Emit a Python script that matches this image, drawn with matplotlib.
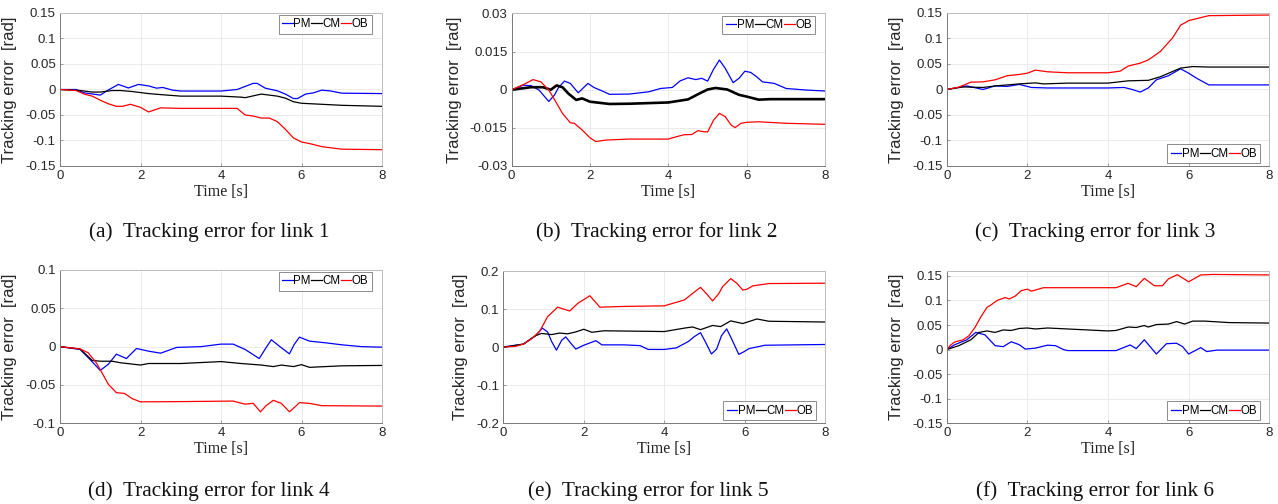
import matplotlib
matplotlib.use("Agg")
import matplotlib.pyplot as plt
from matplotlib.lines import Line2D

# ---------------- data ----------------
series_names = ["PM", "CM", "OB"]
series_colors = ["#0000ff", "#000000", "#ff0000"]
xticks = [0, 2, 4, 6, 8]
captions = ["(a)  Tracking error for link 1", "(b)  Tracking error for link 2",
            "(c)  Tracking error for link 3", "(d)  Tracking error for link 4",
            "(e)  Tracking error for link 5", "(f)  Tracking error for link 6"]

# panel a
a_pm_t = [0, 0.4, 0.6, 1.0, 1.2, 1.45, 1.7, 1.95, 2.2, 2.4, 2.55, 2.8, 3.0, 4.0, 4.4, 4.6, 4.8, 4.9, 5.1, 5.4, 5.6, 5.8, 5.9, 6.1, 6.3, 6.5, 6.7, 7.0, 8.0]
a_pm_y = [0, 0, -0.0065, -0.011, -0.001, 0.01, 0.003, 0.01, 0.007, 0.0026, 0.004, -0.0013, -0.003, -0.003, 0, 0.006, 0.012, 0.012, 0.0026, -0.0026, -0.009, -0.0177, -0.0177, -0.009, -0.0065, -0.0013, -0.0026, -0.0072, -0.008]
a_cm_t = [0, 0.5, 0.8, 1.0, 1.3, 1.5, 1.8, 2.2, 2.5, 3.0, 4.0, 4.5, 4.6, 5.0, 5.4, 5.6, 5.8, 6.0, 6.5, 7.0, 8.0]
a_cm_y = [0, -0.002, -0.005, -0.005, -0.002, -0.002, -0.004, -0.008, -0.01, -0.013, -0.013, -0.015, -0.016, -0.009, -0.013, -0.017, -0.024, -0.027, -0.029, -0.031, -0.033]
a_ob_t = [0, 0.4, 0.6, 0.8, 1.0, 1.2, 1.4, 1.55, 1.75, 2.0, 2.2, 2.35, 2.5, 3.0, 4.4, 4.6, 4.8, 5.0, 5.2, 5.4, 5.6, 5.8, 6.0, 6.2, 6.5, 7.0, 8.0]
a_ob_y = [0, -0.002, -0.009, -0.013, -0.021, -0.028, -0.033, -0.033, -0.029, -0.035, -0.044, -0.04, -0.036, -0.037, -0.037, -0.05, -0.052, -0.056, -0.056, -0.063, -0.078, -0.095, -0.103, -0.106, -0.112, -0.117, -0.118]

# panel b
b_pm_t = [0, 0.3, 0.5, 0.7, 0.95, 1.1, 1.2, 1.35, 1.5, 1.7, 1.95, 2.1, 2.3, 2.5, 3.0, 3.5, 3.8, 4.1, 4.3, 4.5, 4.7, 4.85, 5.0, 5.15, 5.3, 5.45, 5.65, 5.8, 5.95, 6.1, 6.25, 6.4, 6.7, 7.0, 7.5, 8.0]
b_pm_y = [0, 0.0018, 0.0016, -0.0001, -0.0046, -0.002, 0.0009, 0.0034, 0.0025, -0.0012, 0.0025, 0.0009, -0.0004, -0.0018, -0.0017, -0.0008, 0.0005, 0.0009, 0.0035, 0.0047, 0.004, 0.0045, 0.0034, 0.008, 0.0117, 0.0084, 0.0028, 0.0045, 0.0073, 0.0068, 0.0051, 0.0031, 0.0025, 0.0005, -0.0001, -0.0005]
b_cm_t = [0, 0.5, 0.8, 1.0, 1.15, 1.3, 1.45, 1.65, 1.8, 2.0, 2.5, 3.0, 4.0, 4.5, 4.8, 5.0, 5.2, 5.5, 5.8, 6.0, 6.3, 6.6, 7.0, 8.0]
b_cm_y = [0, 0.001, 0.001, 0.0, 0.0017, 0.001, -0.0015, -0.004, -0.0034, -0.0047, -0.0056, -0.0055, -0.005, -0.0038, -0.0014, 0.0001, 0.0007, 0.0001, -0.002, -0.0027, -0.0039, -0.0037, -0.0037, -0.0037]
b_ob_t = [0, 0.3, 0.55, 0.75, 0.95, 1.1, 1.3, 1.5, 1.6, 1.8, 2.0, 2.15, 2.4, 3.0, 4.0, 4.2, 4.4, 4.6, 4.75, 4.9, 5.0, 5.15, 5.3, 5.45, 5.6, 5.7, 5.85, 6.0, 6.3, 7.0, 8.0]
b_ob_y = [0, 0.002, 0.004, 0.0031, -0.0001, -0.004, -0.0093, -0.013, -0.0132, -0.0158, -0.0189, -0.0204, -0.0198, -0.0194, -0.0194, -0.0185, -0.0177, -0.0176, -0.0161, -0.0165, -0.0166, -0.012, -0.0093, -0.0106, -0.0139, -0.0149, -0.0132, -0.0128, -0.0126, -0.0132, -0.0136]

# panel c
c_pm_t = [0, 0.5, 0.9, 1.2, 1.5, 1.8, 2.1, 2.5, 4.0, 4.4, 4.6, 4.8, 5.0, 5.2, 5.5, 5.8, 6.0, 6.2, 6.5, 8.0]
c_pm_y = [0, 0.007, 0.0, 0.007, 0.006, 0.01, 0.004, 0.003, 0.003, 0.004, 0.0, -0.005, 0.003, 0.019, 0.027, 0.0406, 0.032, 0.022, 0.009, 0.009]
c_cm_t = [0, 0.4, 0.9, 1.2, 1.8, 2.2, 2.4, 3.0, 4.0, 4.5, 5.0, 5.3, 5.8, 6.1, 6.5, 8.0]
c_cm_y = [0, 0.005, 0.004, 0.007, 0.011, 0.013, 0.011, 0.0125, 0.0125, 0.017, 0.018, 0.025, 0.042, 0.045, 0.044, 0.044]
c_ob_t = [0, 0.3, 0.6, 0.9, 1.2, 1.5, 1.8, 2.0, 2.2, 2.5, 3.0, 4.0, 4.3, 4.5, 4.8, 5.0, 5.3, 5.6, 5.8, 6.0, 6.2, 6.5, 8.0]
c_ob_y = [0, 0.0046, 0.0144, 0.015, 0.019, 0.027, 0.0295, 0.032, 0.038, 0.0347, 0.0328, 0.0328, 0.036, 0.0459, 0.0517, 0.058, 0.0747, 0.101, 0.126, 0.135, 0.139, 0.1448, 0.146]

# panel d
d_pm_t = [0, 0.5, 0.75, 1.0, 1.2, 1.4, 1.65, 1.9, 2.2, 2.5, 2.9, 3.5, 4.0, 4.3, 4.6, 4.95, 5.1, 5.25, 5.45, 5.7, 5.82, 5.95, 6.2, 6.6, 7.0, 7.5, 8.0]
d_pm_y = [0, -0.0037, -0.017, -0.031, -0.023, -0.0098, -0.0155, -0.0024, -0.0059, -0.0085, -0.001, 0, 0.0033, 0.0033, -0.0037, -0.0155, -0.003, 0.009, 0.0006, -0.0094, 0.003, 0.0124, 0.0072, 0.005, 0.0024, 0, -0.0007]
d_cm_t = [0, 0.5, 0.8, 1.0, 1.3, 1.5, 2.0, 2.2, 3.0, 4.0, 4.5, 5.0, 5.3, 5.5, 5.8, 6.0, 6.2, 7.0, 8.0]
d_cm_y = [0, -0.003, -0.018, -0.019, -0.019, -0.021, -0.024, -0.022, -0.022, -0.0195, -0.022, -0.024, -0.026, -0.024, -0.026, -0.0235, -0.027, -0.025, -0.0245]
d_ob_t = [0, 0.5, 0.7, 0.9, 1.0, 1.2, 1.4, 1.6, 1.8, 2.0, 3.0, 4.3, 4.6, 4.8, 4.98, 5.12, 5.3, 5.5, 5.7, 5.83, 5.95, 6.2, 6.5, 8.0]
d_ob_y = [0, -0.003, -0.008, -0.021, -0.03, -0.049, -0.06, -0.061, -0.068, -0.072, -0.0717, -0.071, -0.075, -0.074, -0.085, -0.077, -0.07, -0.074, -0.085, -0.079, -0.073, -0.074, -0.077, -0.0775]

# panel e
e_pm_t = [0, 0.5, 0.8, 0.97, 1.1, 1.2, 1.32, 1.45, 1.55, 1.68, 1.8, 2.0, 2.3, 2.45, 3.0, 3.4, 3.6, 4.0, 4.3, 4.6, 4.75, 4.9, 5.03, 5.17, 5.3, 5.42, 5.55, 5.68, 5.85, 5.98, 6.1, 6.5, 8.0]
e_pm_y = [0, 0.008, 0.03, 0.05, 0.04, 0.015, -0.008, 0.018, 0.027, 0.01, -0.005, 0.005, 0.017, 0.006, 0.006, 0.004, -0.006, -0.006, -0.002, 0.015, 0.028, 0.038, 0.012, -0.018, -0.005, 0.03, 0.048, 0.02, -0.019, -0.012, -0.004, 0.005, 0.007]
e_cm_t = [0, 0.5, 0.8, 0.95, 1.2, 1.4, 1.6, 1.8, 2.0, 2.2, 2.5, 4.0, 4.5, 4.7, 4.9, 5.2, 5.4, 5.65, 5.95, 6.3, 6.6, 8.0]
e_cm_y = [0, 0.008, 0.03, 0.036, 0.033, 0.037, 0.035, 0.04, 0.047, 0.039, 0.043, 0.041, 0.05, 0.053, 0.046, 0.057, 0.054, 0.069, 0.062, 0.074, 0.068, 0.066]
e_ob_t = [0, 0.3, 0.5, 0.7, 0.9, 1.1, 1.35, 1.65, 1.85, 2.15, 2.4, 3.0, 4.0, 4.5, 4.75, 4.9, 5.05, 5.2, 5.35, 5.45, 5.65, 5.8, 5.95, 6.05, 6.2, 6.6, 8.0]
e_ob_y = [0, 0.002, 0.008, 0.022, 0.041, 0.08, 0.105, 0.095, 0.115, 0.135, 0.105, 0.107, 0.1085, 0.124, 0.145, 0.157, 0.14, 0.1215, 0.14, 0.159, 0.18, 0.168, 0.15, 0.152, 0.161, 0.167, 0.168]

# panel f
f_pm_t = [0, 0.2, 0.5, 0.72, 0.95, 1.2, 1.4, 1.6, 1.8, 1.95, 2.2, 2.5, 2.7, 2.9, 3.0, 4.2, 4.55, 4.7, 4.9, 5.2, 5.45, 5.7, 5.85, 6.0, 6.3, 6.45, 6.7, 8.0]
f_pm_y = [0, 0.01, 0.02, 0.035, 0.03, 0.008, 0.006, 0.016, 0.01, 0.001, 0.003, 0.009, 0.008, 0.0, -0.002, -0.002, 0.0095, 0.002, 0.02, -0.009, 0.012, 0.013, 0.006, -0.009, 0.004, -0.004, -0.001, -0.001]
f_cm_t = [0, 0.3, 0.6, 0.8, 1.0, 1.2, 1.4, 1.6, 1.8, 2.0, 2.2, 2.5, 3.0, 4.0, 4.2, 4.5, 4.7, 4.9, 5.0, 5.2, 5.5, 5.7, 5.9, 6.1, 6.4, 7.0, 8.0]
f_cm_y = [0, 0.008, 0.02, 0.035, 0.038, 0.035, 0.04, 0.039, 0.043, 0.044, 0.042, 0.044, 0.042, 0.038, 0.039, 0.046, 0.045, 0.049, 0.046, 0.051, 0.052, 0.057, 0.052, 0.058, 0.058, 0.055, 0.054]
f_ob_t = [0, 0.1, 0.2, 0.4, 0.55, 0.7, 0.85, 1.0, 1.1, 1.25, 1.45, 1.55, 1.7, 1.85, 2.0, 2.1, 2.4, 3.0, 4.2, 4.5, 4.7, 4.9, 5.15, 5.35, 5.5, 5.72, 6.0, 6.3, 6.6, 8.0]
f_ob_y = [0, 0.0095, 0.0156, 0.0197, 0.028, 0.045, 0.067, 0.086, 0.091, 0.1, 0.106, 0.103, 0.109, 0.12, 0.123, 0.119, 0.126, 0.126, 0.126, 0.135, 0.128, 0.145, 0.13, 0.13, 0.144, 0.1525, 0.138, 0.152, 0.153, 0.152]

ytick_sets = [
    ["0.15", "0.1", "0.05", "0", "-0.05", "-0.1", "-0.15"],
    ["0.03", "0.015", "0", "-0.015", "-0.03"],
    ["0.15", "0.1", "0.05", "0", "-0.05", "-0.1", "-0.15"],
    ["0.1", "0.05", "0", "-0.05", "-0.1"],
    ["0.2", "0.1", "0", "-0.1", "-0.2"],
    ["0.15", "0.1", "0.05", "0", "-0.05", "-0.1", "-0.15"],
]
ylims = [(-0.15, 0.15), (-0.03, 0.03), (-0.15, 0.15), (-0.1, 0.1), (-0.2, 0.2), (-0.15, 0.16)]

panels = [
    [(a_pm_t, a_pm_y), (a_cm_t, a_cm_y), (a_ob_t, a_ob_y)],
    [(b_pm_t, b_pm_y), (b_cm_t, b_cm_y), (b_ob_t, b_ob_y)],
    [(c_pm_t, c_pm_y), (c_cm_t, c_cm_y), (c_ob_t, c_ob_y)],
    [(d_pm_t, d_pm_y), (d_cm_t, d_cm_y), (d_ob_t, d_ob_y)],
    [(e_pm_t, e_pm_y), (e_cm_t, e_cm_y), (e_ob_t, e_ob_y)],
    [(f_pm_t, f_pm_y), (f_cm_t, f_cm_y), (f_ob_t, f_ob_y)],
]

# ---------------- layout (pixels) ----------------
W, H = 1278, 504
fig = plt.figure(figsize=(W / 100, H / 100), dpi=100)
boxes = [(60, 382, 13, 166), (511.5, 825.3, 13.5, 166), (946.7, 1269.3, 13, 166),
         (60, 382, 270, 423.3), (503.3, 825.3, 271, 423.3), (946.7, 1269.3, 271, 423.3)]
ylabel_off = [-43, -50, -43, -43, -35, -43]
legend_loc = ["upper", "upper", "lower", "upper", "lower", "lower"]
cap_x = [209, 657, 1095, 209, 648, 1095]
cap_y = [232, 232, 232, 491, 491, 491]
cm_lw = [0.9, 1.9, 0.9, 0.9, 0.9, 0.9]

sans = ["Liberation Sans", "DejaVu Sans"]
serif = ["Liberation Serif", "DejaVu Serif"]
tick_col = "#262626"

for i, (l, r, t, b) in enumerate(boxes):
    ax = fig.add_axes([l / W, 1 - b / H, (r - l) / W, (b - t) / H])
    for k, (tt, yy) in enumerate(panels[i]):
        lw = cm_lw[i] if k == 1 else 0.9
        ax.plot(tt, yy, color=series_colors[k], lw=lw)
    ax.set_xlim(0, 8)
    ax.set_ylim(*ylims[i])
    ax.set_xticks(xticks)
    ax.set_xticklabels([str(x) for x in xticks], fontfamily=sans, fontsize=9.5, color=tick_col)
    yl = ytick_sets[i]
    ax.set_yticks([float(v) for v in yl])
    ax.set_yticklabels(yl, fontfamily=sans, fontsize=9.5, color=tick_col)
    ax.grid(True, color="#e8e8e8", lw=0.6)
    ax.set_axisbelow(True)
    for s in ax.spines.values():
        s.set_color("#bdbdbd")
        s.set_linewidth(0.7)
    ax.spines["left"].set_color("#7a7a7a")
    ax.spines["bottom"].set_color("#7a7a7a")
    ax.tick_params(direction="in", length=2, width=0.5, color="#7a7a7a", pad=3)
    ax.set_ylabel("Tracking error  [rad]", fontfamily=sans, fontsize=12, color=tick_col)
    ax.yaxis.set_label_coords(ylabel_off[i] / (r - l), 0.5)
    ax.set_xlabel("Time [s]", fontfamily=serif, fontsize=11.5, color="#222222", labelpad=1)

    wpx, hpx = r - l, b - t
    handles = [Line2D([], [], color=c, lw=0.9) for c in series_colors]
    if legend_loc[i] == "upper":
        kw = dict(loc="upper right", bbox_to_anchor=(1 - 10 / wpx, 1 - 2 / hpx))
    else:
        kw = dict(loc="lower right", bbox_to_anchor=(1 - 9 / wpx, 3 / hpx))
    leg = ax.legend(handles, series_names, ncol=3, handlelength=0.9, handletextpad=0.05,
                    columnspacing=0.05, borderpad=0.3, borderaxespad=0,
                    fancybox=False, framealpha=1,
                    prop={"family": sans, "size": 8.3}, **kw)
    leg.get_frame().set_edgecolor("#7a7a7a")
    leg.get_frame().set_linewidth(0.6)

    fig.text(cap_x[i] / W, 1 - cap_y[i] / H, captions[i], fontfamily=serif,
             fontsize=15.3, ha="center", va="center", color="#111111")

fig.savefig("out.png", dpi=100, facecolor="white")
